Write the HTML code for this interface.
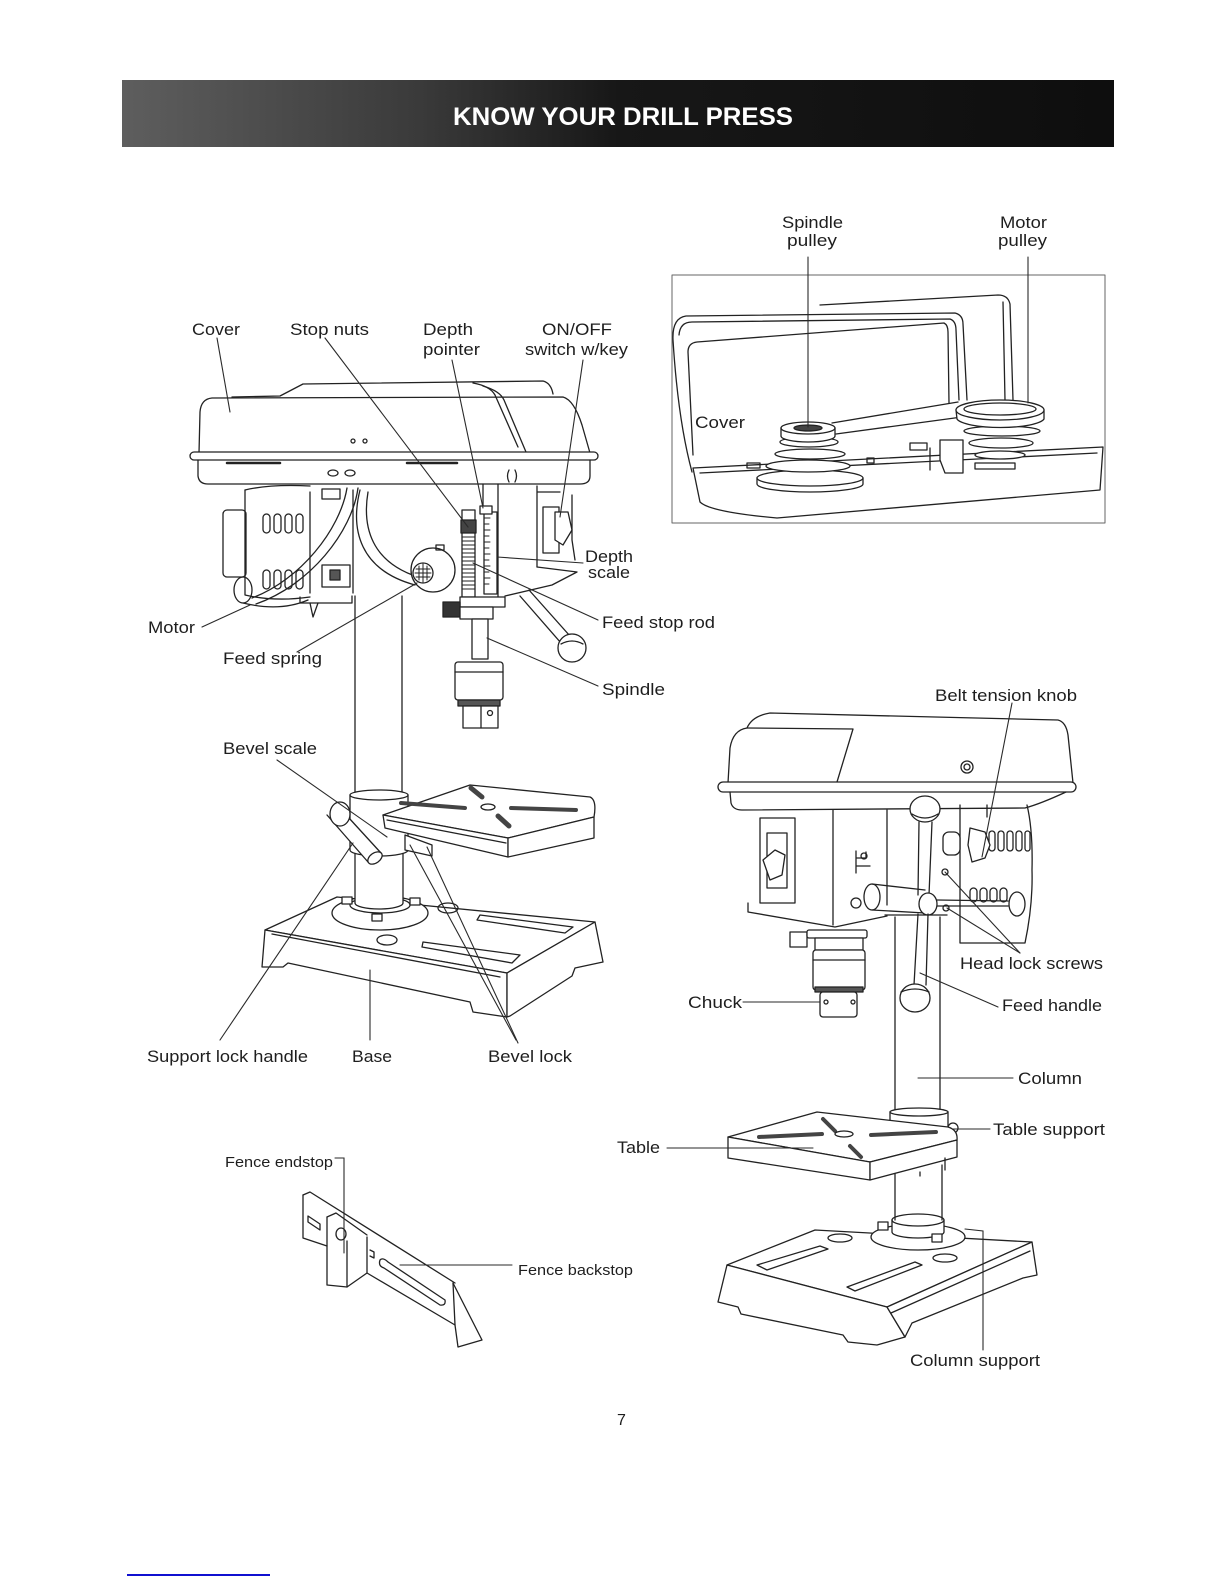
<!DOCTYPE html>
<html><head><meta charset="utf-8">
<style>
html,body{margin:0;padding:0;background:#fff;}
svg{display:block;}
text{font-family:"Liberation Sans",Arial,sans-serif;fill:#1e1e1e;}
</style></head><body>
<svg width="1224" height="1584" viewBox="0 0 1224 1584" xmlns="http://www.w3.org/2000/svg">
<defs>
<linearGradient id="hb" x1="0" x2="1" y1="0" y2="0">
<stop offset="0" stop-color="#5e5e5e"/>
<stop offset="0.3" stop-color="#3a3a3a"/>
<stop offset="0.5" stop-color="#171717"/>
<stop offset="1" stop-color="#0e0e0e"/>
</linearGradient>
</defs>
<rect width="1224" height="1584" fill="#fff"/>

<!-- Header -->
<rect x="122" y="80" width="992" height="67" fill="url(#hb)"/>
<text x="453" y="125" font-size="25" font-weight="bold" textLength="340" lengthAdjust="spacingAndGlyphs" style="fill:#fff">KNOW YOUR DRILL PRESS</text>

<g fill="none" stroke="#222" stroke-width="1.3" stroke-linejoin="round" stroke-linecap="round">

<!-- ================= LEFT DRILL PRESS ================= -->
<!-- base -->
<path d="M265 930 L337 897 L595 922 L507 973 Z" fill="#fff"/>
<path d="M265 930 L262 967 L283 967 L288 963 L470 1002 L473 1012 L507 1017 L507 973 Z" fill="#fff"/>
<path d="M507 973 L595 922 L603 962 L575 968 L572 976 L510 1016 L507 1017 Z" fill="#fff"/>
<path d="M272 934 L500 977"/>
<path d="M480 915 L573 927 L565 933 L477 920 Z"/>
<path d="M423 942 L520 955 L512 963 L422 947 Z"/>
<ellipse cx="387" cy="940" rx="10" ry="5"/>
<ellipse cx="448" cy="908" rx="10" ry="5"/>
<!-- flange -->
<ellipse cx="380" cy="913" rx="48" ry="17" fill="#fff"/>
<ellipse cx="380" cy="905" rx="30" ry="8" fill="#fff"/>
<rect x="342" y="897" width="10" height="7" fill="#fff"/>
<rect x="372" y="914" width="10" height="7" fill="#fff"/>
<rect x="410" y="898" width="10" height="7" fill="#fff"/>
<!-- lower column -->
<path d="M355 850 L355 903 A24 6 0 0 0 403 903 L403 850" fill="#fff"/>
<!-- column -->
<line x1="355" y1="596" x2="355" y2="795"/>
<line x1="402" y1="596" x2="402" y2="795"/>
<!-- collar -->
<path d="M350 795 L350 850 A29 6 0 0 0 408 850 L408 795" fill="#fff"/>
<ellipse cx="379" cy="795" rx="29" ry="5" fill="#fff"/>
<!-- table arm / bevel lock -->
<path d="M405 835 L432 845 L432 856 L405 850 Z" fill="#fff"/>
<!-- table -->
<path d="M383 815 L470 785 L590 797 Q597 800 594 817 L508 838 Z" fill="#fff"/>
<path d="M383 815 L385 828 L508 857 L508 838 Z" fill="#fff"/>
<path d="M508 838 L594 817 L594 838 L508 857 Z" fill="#fff"/>
<path d="M387 820 L506 843"/>
<path d="M401 803 L465 808" stroke="#444" stroke-width="4"/>
<path d="M511 808 L576 810" stroke="#444" stroke-width="4"/>
<ellipse cx="488" cy="807" rx="7" ry="3"/>
<path d="M471 788 L482 797" stroke-width="5" stroke="#444"/>
<path d="M498 816 L509 826" stroke-width="5" stroke="#444"/>
<!-- lock handle -->
<path d="M327 815 L368 862 L381 853 L338 806" fill="#fff"/>
<ellipse cx="375" cy="858" rx="8" ry="5" transform="rotate(-35 375 858)" fill="#fff"/>
<ellipse cx="340" cy="814" rx="10" ry="12" fill="#fff"/>

<!-- head cover -->
<path d="M199 453 L200 412 Q201 399 212 398 L563 397 Q574 400 582 425 L590 453" fill="#fff"/>
<path d="M232 397 L280 396 L303 384 L543 381 Q551 383 553 394"/>
<path d="M473 383 Q490 386 495 395 L518 447"/>
<path d="M483 386 Q500 391 504 400 L526 452"/>
<rect x="190" y="452" width="408" height="8" rx="4" fill="#fff"/>
<path d="M198 460 L198 476 Q199 484 208 484 L580 484 Q590 484 590 476 L590 460"/>
<path d="M227 463 L280 463" stroke-width="2.5"/>
<path d="M407 463 L457 463" stroke-width="2.5"/>
<circle cx="353" cy="441" r="2"/><circle cx="365" cy="441" r="2"/>
<ellipse cx="333" cy="473" rx="5" ry="3"/><ellipse cx="350" cy="473" rx="5" ry="3"/>
<path d="M509 470 Q506 476 509 482 M515 470 Q518 476 515 482"/>

<!-- motor -->
<rect x="223" y="510" width="23" height="67" rx="4"/>
<path d="M245 490 L245 595 Q275 602 310 597"/>
<path d="M245 490 Q270 484 310 486"/>
<rect x="263" y="514" width="7" height="19" rx="3.5"/>
<rect x="274" y="514" width="7" height="19" rx="3.5"/>
<rect x="285" y="514" width="7" height="19" rx="3.5"/>
<rect x="296" y="514" width="7" height="19" rx="3.5"/>
<rect x="263" y="570" width="7" height="19" rx="3.5"/>
<rect x="274" y="570" width="7" height="19" rx="3.5"/>
<rect x="285" y="570" width="7" height="19" rx="3.5"/>
<rect x="296" y="570" width="7" height="19" rx="3.5"/>
<path d="M310 492 L310 593 M353 490 L353 593"/>
<rect x="322" y="489" width="18" height="10"/>
<rect x="322" y="565" width="28" height="22"/>
<rect x="330" y="570" width="10" height="10" fill="#555"/>
<path d="M300 597 L300 603 L352 603 L352 596"/>
<path d="M310 603 L313 617 L318 603"/>
<!-- cables -->
<ellipse cx="243" cy="590" rx="9" ry="13"/>
<path d="M347 488 C340 530 300 580 252 598"/>
<path d="M358 488 C352 532 310 585 256 604"/>
<path d="M243 603 Q280 612 308 600"/>
<path d="M360 490 C350 530 360 570 415 585"/>
<path d="M368 492 C362 528 372 562 418 577"/>
<!-- feed spring -->
<circle cx="433" cy="570" r="22" fill="#fff"/>
<rect x="436" y="545" width="8" height="5"/>
<circle cx="423" cy="573" r="10" fill="#fff"/>
<path d="M416 569 L430 569 M415 573 L431 573 M416 577 L430 577 M419 566 L419 580 M423 564 L423 582 M427 566 L427 580" stroke-width="1"/>
<!-- quill housing -->
<path d="M483 484 L483 506 M498 484 L498 597"/>
<path d="M537 486 L537 567 M537 492 L560 492"/>
<rect x="543" y="507" width="16" height="46"/>
<path d="M555 512 L568 512 L572 530 L563 545 L555 540 Z" fill="#fff"/>
<path d="M572 495 L572 540 L575 560"/>
<path d="M537 567 L577 572 L552 585 L505 596"/>
<!-- stop rod & depth scale -->
<rect x="462" y="510" width="13" height="87" fill="#fff"/>
<path d="M462 537 L475 537 M462 541 L475 541 M462 545 L475 545 M462 549 L475 549 M462 553 L475 553 M462 557 L475 557 M462 561 L475 561 M462 565 L475 565 M462 569 L475 569 M462 573 L475 573 M462 577 L475 577 M462 581 L475 581 M462 585 L475 585 M462 589 L475 589" stroke-width="1"/>
<rect x="461" y="520" width="15" height="13" fill="#444"/>
<rect x="484" y="512" width="13" height="82" fill="#fff"/>
<path d="M484 518 L490 518 M484 524 L489 524 M484 530 L490 530 M484 536 L489 536 M484 542 L490 542 M484 548 L489 548 M484 554 L490 554 M484 560 L489 560 M484 566 L490 566 M484 572 L489 572 M484 578 L490 578 M484 584 L489 584" stroke-width="1"/>
<rect x="480" y="506" width="12" height="8" fill="#fff"/>
<!-- collar / spindle / chuck -->
<rect x="460" y="597" width="45" height="10" fill="#fff"/>
<rect x="443" y="602" width="17" height="15" fill="#333"/>
<rect x="460" y="607" width="33" height="12" fill="#fff"/>
<rect x="472" y="619" width="16" height="40" fill="#fff"/>
<rect x="455" y="662" width="48" height="38" rx="3" fill="#fff"/>
<path d="M455 672 L503 672"/>
<rect x="458" y="700" width="42" height="6" fill="#555"/>
<rect x="463" y="706" width="35" height="22" fill="#fff"/>
<path d="M481 706 L481 728"/>
<circle cx="490" cy="713" r="2.5"/>
<!-- feed handle -->
<path d="M520 596 L561 643 M529 590 L570 636"/>
<circle cx="572" cy="648" r="14" fill="#fff"/>
<path d="M561 644 Q572 638 583 644"/>

<!-- ================= TOP RIGHT BOX ================= -->
<rect x="672" y="275" width="433" height="248" stroke="#666" stroke-width="1"/>
<path d="M820 305 L998 295 Q1008 295 1010 304 L1013 400"/>
<path d="M1003 302 L1005 400"/>
<path d="M692 472 Q678 420 673 340 Q672 318 686 316 L955 313 Q963 315 963 324 L967 400"/>
<path d="M679 335 Q680 322 692 322 L950 319 Q956 321 956 330 L959 400"/>
<path d="M693 455 L688 352 Q688 343 697 342 L944 323 Q948 325 948 332 L949 403"/>
<path d="M693 468 L1103 447 L1100 490 L777 518 Q710 512 700 502 Z" fill="#fff"/>
<path d="M700 473 L1097 453"/>
<!-- spindle pulley -->
<path d="M757 478 L757 484 A53 8 0 0 0 863 484 L863 478" fill="#fff"/>
<ellipse cx="810" cy="478" rx="53" ry="8" fill="#fff"/>
<ellipse cx="808" cy="466" rx="42" ry="6" fill="#fff"/>
<ellipse cx="810" cy="454" rx="35" ry="5" fill="#fff"/>
<ellipse cx="809" cy="442" rx="29" ry="5" fill="#fff"/>
<path d="M781 428 L781 436 A27 6 0 0 0 835 436 L835 428" fill="#fff"/>
<ellipse cx="808" cy="428" rx="27" ry="6" fill="#fff"/>
<ellipse cx="808" cy="428" rx="14" ry="3" fill="#444"/>
<!-- belt -->
<path d="M832 423 L958 402 M836 434 L962 417"/>
<!-- motor pulley -->
<ellipse cx="1000" cy="455" rx="25" ry="4" fill="#fff"/>
<ellipse cx="1001" cy="443" rx="32" ry="5" fill="#fff"/>
<ellipse cx="1002" cy="431" rx="38" ry="5" fill="#fff"/>
<path d="M956 410 L957 419 A44 10 0 0 0 1044 419 L1044 410" fill="#fff"/>
<ellipse cx="1000" cy="410" rx="44" ry="10" fill="#fff"/>
<ellipse cx="1000" cy="409" rx="36" ry="6"/>
<!-- misc -->
<rect x="910" y="443" width="17" height="7"/>
<path d="M940 440 L963 440 L963 473 L945 473 L940 460 Z" fill="#fff"/>
<rect x="867" y="458" width="7" height="5"/>
<rect x="747" y="463" width="13" height="5"/>
<path d="M930 448 L930 470"/>
<rect x="975" y="463" width="40" height="6"/>

<!-- ================= RIGHT DRILL PRESS ================= -->
<!-- base -->
<path d="M727 1265 L815 1230 L1032 1242 L887 1307 Z" fill="#fff"/>
<path d="M727 1265 L718 1302 L738 1307 L741 1314 L843 1335 L848 1342 L877 1345 L905 1337 L887 1307 Z" fill="#fff"/>
<path d="M887 1307 L1032 1242 L1037 1275 L1023 1278 L912 1323 L905 1337 Z" fill="#fff"/>
<path d="M891 1313 L1030 1251"/>
<path d="M757 1265 L820 1246 L828 1249 L767 1270 Z"/>
<path d="M847 1287 L915 1262 L922 1265 L855 1291 Z"/>
<ellipse cx="840" cy="1238" rx="12" ry="4"/>
<ellipse cx="945" cy="1258" rx="12" ry="4"/>
<!-- flange -->
<ellipse cx="918" cy="1237" rx="47" ry="13" fill="#fff"/>
<path d="M892 1220 L892 1232 A26 6 0 0 0 944 1232 L944 1220" fill="#fff"/>
<ellipse cx="918" cy="1220" rx="26" ry="6" fill="#fff"/>
<rect x="878" y="1222" width="10" height="8" fill="#fff"/>
<rect x="932" y="1234" width="10" height="8" fill="#fff"/>
<path d="M895 1165 L895 1220 M942 1165 L942 1220"/>
<!-- column -->
<path d="M895 917 L895 1110 M940 917 L940 1110"/>
<path d="M885 915 L947 915"/>
<!-- collar -->
<path d="M890 1112 L890 1130 L948 1130 L948 1112" fill="#fff"/>
<ellipse cx="919" cy="1112" rx="29" ry="4" fill="#fff"/>
<circle cx="953" cy="1128" r="5" fill="#fff"/>
<!-- table -->
<path d="M728 1137 L817 1112 L948 1127 Q958 1130 957 1140 L870 1162 Z" fill="#fff"/>
<path d="M728 1137 L728 1158 L870 1180 L870 1162 Z" fill="#fff"/>
<path d="M870 1162 L957 1140 L957 1157 L870 1180 Z" fill="#fff"/>
<path d="M759 1137 L822 1134" stroke="#444" stroke-width="4"/>
<path d="M871 1135 L936 1132" stroke="#444" stroke-width="4"/>
<path d="M823 1119 L835 1131" stroke="#444" stroke-width="4"/>
<path d="M850 1146 L861 1157" stroke="#444" stroke-width="4"/>
<ellipse cx="844" cy="1134" rx="9" ry="3"/>
<path d="M920 1172 L920 1176 M945 1158 L945 1170"/>

<!-- head -->
<path d="M728 783 L730 748 Q733 730 747 728 Q752 716 770 713 L1058 720 Q1066 722 1068 735 L1073 783" fill="#fff"/>
<path d="M747 728 L853 729 L837 782"/>
<rect x="718" y="782" width="358" height="10" rx="5" fill="#fff"/>
<path d="M730 792 L731 803 Q733 810 742 810 L1025 808 Q1040 804 1066 792"/>
<circle cx="967" cy="767" r="6"/><circle cx="967" cy="767" r="3"/>
<!-- motor right -->
<path d="M960 805 L960 943 L1025 943 Q1033 905 1032 870 Q1033 830 1027 805"/>
<path d="M987 805 L987 817"/>
<rect x="989" y="831" width="6" height="20" rx="3"/>
<rect x="998" y="831" width="6" height="20" rx="3"/>
<rect x="1007" y="831" width="6" height="20" rx="3"/>
<rect x="1016" y="831" width="6" height="20" rx="3"/>
<rect x="1025" y="831" width="5" height="20" rx="2.5"/>
<rect x="970" y="888" width="7" height="14" rx="3.5"/>
<rect x="980" y="888" width="7" height="14" rx="3.5"/>
<rect x="990" y="888" width="7" height="14" rx="3.5"/>
<rect x="1000" y="888" width="7" height="14" rx="3.5"/>
<rect x="943" y="832" width="17" height="23" rx="6" fill="#fff"/>
<path d="M970 828 L985 832 L990 845 L985 858 L972 862 L968 845 Z" fill="#fff"/>
<!-- switch box & body -->
<rect x="760" y="818" width="35" height="85"/>
<rect x="767" y="833" width="20" height="55"/>
<path d="M763 860 L775 850 L785 855 L782 875 L770 880 Z" fill="#fff"/>
<path d="M833 810 L833 925 M887 810 L887 905"/>
<path d="M748 903 L748 912 L835 927 L887 916"/>
<path d="M856 851 L856 873 M856 858 L866 858 L866 852 M856 866 L870 866"/>
<circle cx="864" cy="856" r="3"/>
<circle cx="856" cy="903" r="5"/>
<circle cx="945" cy="872" r="3"/>
<circle cx="946" cy="908" r="3"/>
<!-- chuck -->
<rect x="790" y="932" width="17" height="15" fill="#fff"/>
<rect x="807" y="930" width="60" height="8" rx="2" fill="#fff"/>
<rect x="815" y="938" width="48" height="12" fill="#fff"/>
<rect x="813" y="950" width="52" height="40" rx="3" fill="#fff"/>
<path d="M813 960 L865 960"/>
<rect x="815" y="987" width="48" height="5" fill="#555"/>
<rect x="820" y="992" width="37" height="25" rx="3" fill="#fff"/>
<circle cx="826" cy="1002" r="2"/><circle cx="853" cy="1002" r="2"/>
<!-- feed handle -->
<ellipse cx="872" cy="897" rx="8" ry="13" fill="#fff"/>
<path d="M872 884 L925 890 M872 910 L925 913"/>
<path d="M937 900 L1008 901 M937 906 L1008 906"/>
<ellipse cx="1017" cy="904" rx="8" ry="12" fill="#fff"/>
<path d="M919 822 L918 895 M932 822 L929 895"/>
<ellipse cx="925" cy="809" rx="15" ry="13" fill="#fff"/>
<path d="M912 814 Q925 822 938 814"/>
<ellipse cx="928" cy="904" rx="9" ry="11" fill="#fff"/>
<path d="M918 914 L914 985 M928 914 L926 985"/>
<ellipse cx="915" cy="998" rx="15" ry="14" fill="#fff"/>
<path d="M901 992 Q915 986 929 992"/>

<!-- ================= FENCE ================= -->
<path d="M303 1195 L310 1192 L455 1283"/>
<path d="M303 1195 L303 1238 L327 1246"/>
<path d="M308 1216 L320 1224 L320 1230 L308 1222 Z"/>
<path d="M327 1217 L336 1213 L367 1235" />
<path d="M327 1217 L327 1285 L347 1287 L367 1273"/>
<path d="M347 1241 L347 1287"/>
<ellipse cx="341" cy="1234" rx="5" ry="6"/>
<path d="M367 1237 L367 1273 L455 1325 L453 1283"/>
<path d="M380 1260 Q378 1266 384 1268 L440 1305 Q446 1306 445 1300 L388 1262 Q383 1257 380 1260 Z"/>
<path d="M453 1283 L482 1340 L458 1347 L455 1325"/>
<path d="M370 1250 L374 1252 L374 1258 L370 1256"/>
</g>

<!-- ================= LEADER LINES ================= -->
<g stroke="#2a2a2a" stroke-width="1.1" fill="none" stroke-linecap="round">
<line x1="808" y1="257" x2="808" y2="427"/>
<line x1="1028" y1="257" x2="1028" y2="403"/>
<line x1="217" y1="338" x2="230" y2="412"/>
<line x1="325" y1="338" x2="468" y2="527"/>
<line x1="452" y1="360" x2="483" y2="508"/>
<line x1="583" y1="360" x2="560" y2="517"/>
<line x1="497" y1="557" x2="583" y2="563"/>
<line x1="473" y1="563" x2="598" y2="620"/>
<line x1="487" y1="638" x2="598" y2="686"/>
<line x1="202" y1="627" x2="250" y2="605"/>
<line x1="297" y1="652" x2="417" y2="583"/>
<line x1="277" y1="760" x2="387" y2="837"/>
<line x1="220" y1="1040" x2="353" y2="843"/>
<line x1="370" y1="1040" x2="370" y2="970"/>
<line x1="518" y1="1043" x2="427" y2="847"/>
<line x1="516" y1="1040" x2="410" y2="845"/>
<line x1="1012" y1="703" x2="982" y2="857"/>
<line x1="1020" y1="953" x2="945" y2="872"/>
<line x1="1020" y1="953" x2="947" y2="908"/>
<line x1="743" y1="1002" x2="820" y2="1002"/>
<line x1="998" y1="1007" x2="920" y2="973"/>
<line x1="918" y1="1078" x2="1013" y2="1078"/>
<line x1="953" y1="1129" x2="990" y2="1129"/>
<line x1="667" y1="1148" x2="813" y2="1148"/>
<polyline points="965,1229 983,1231 983,1350"/>
<polyline points="335,1158 344,1158 344,1253"/>
<line x1="400" y1="1265" x2="512" y2="1265"/>
</g>

<!-- ================= LABELS ================= -->
<g font-size="17">
<text x="782" y="228" textLength="61" lengthAdjust="spacingAndGlyphs">Spindle</text>
<text x="787" y="246" textLength="50" lengthAdjust="spacingAndGlyphs">pulley</text>
<text x="1000" y="228" textLength="47" lengthAdjust="spacingAndGlyphs">Motor</text>
<text x="998" y="246" textLength="49" lengthAdjust="spacingAndGlyphs">pulley</text>
<text x="695" y="428" textLength="50" lengthAdjust="spacingAndGlyphs">Cover</text>
<text x="192" y="335" textLength="48" lengthAdjust="spacingAndGlyphs">Cover</text>
<text x="290" y="335" textLength="79" lengthAdjust="spacingAndGlyphs">Stop nuts</text>
<text x="423" y="335" textLength="50" lengthAdjust="spacingAndGlyphs">Depth</text>
<text x="423" y="355" textLength="57" lengthAdjust="spacingAndGlyphs">pointer</text>
<text x="542" y="335" textLength="70" lengthAdjust="spacingAndGlyphs">ON/OFF</text>
<text x="525" y="355" textLength="103" lengthAdjust="spacingAndGlyphs">switch w/key</text>
<text x="585" y="562" textLength="48" lengthAdjust="spacingAndGlyphs">Depth</text>
<text x="588" y="578" textLength="42" lengthAdjust="spacingAndGlyphs">scale</text>
<text x="602" y="628" textLength="113" lengthAdjust="spacingAndGlyphs">Feed stop rod</text>
<text x="148" y="633" textLength="47" lengthAdjust="spacingAndGlyphs">Motor</text>
<text x="223" y="664" textLength="99" lengthAdjust="spacingAndGlyphs">Feed spring</text>
<text x="602" y="695" textLength="63" lengthAdjust="spacingAndGlyphs">Spindle</text>
<text x="223" y="754" textLength="94" lengthAdjust="spacingAndGlyphs">Bevel scale</text>
<text x="147" y="1062" textLength="161" lengthAdjust="spacingAndGlyphs">Support lock handle</text>
<text x="352" y="1062" textLength="40" lengthAdjust="spacingAndGlyphs">Base</text>
<text x="488" y="1062" textLength="84" lengthAdjust="spacingAndGlyphs">Bevel lock</text>
<text x="935" y="701" textLength="142" lengthAdjust="spacingAndGlyphs">Belt tension knob</text>
<text x="960" y="969" textLength="143" lengthAdjust="spacingAndGlyphs">Head lock screws</text>
<text x="688" y="1008" textLength="54" lengthAdjust="spacingAndGlyphs">Chuck</text>
<text x="1002" y="1011" textLength="100" lengthAdjust="spacingAndGlyphs">Feed handle</text>
<text x="1018" y="1084" textLength="64" lengthAdjust="spacingAndGlyphs">Column</text>
<text x="993" y="1135" textLength="112" lengthAdjust="spacingAndGlyphs">Table support</text>
<text x="617" y="1153" textLength="43" lengthAdjust="spacingAndGlyphs">Table</text>
<text x="910" y="1366" textLength="130" lengthAdjust="spacingAndGlyphs">Column support</text>
</g>
<g font-size="15">
<text x="225" y="1167" textLength="108" lengthAdjust="spacingAndGlyphs">Fence endstop</text>
<text x="518" y="1275" textLength="115" lengthAdjust="spacingAndGlyphs">Fence backstop</text>
</g>
<text x="617" y="1425" font-size="16">7</text>
<rect x="127" y="1574" width="143" height="2" fill="#1010d0"/>
</svg>
</body></html>
